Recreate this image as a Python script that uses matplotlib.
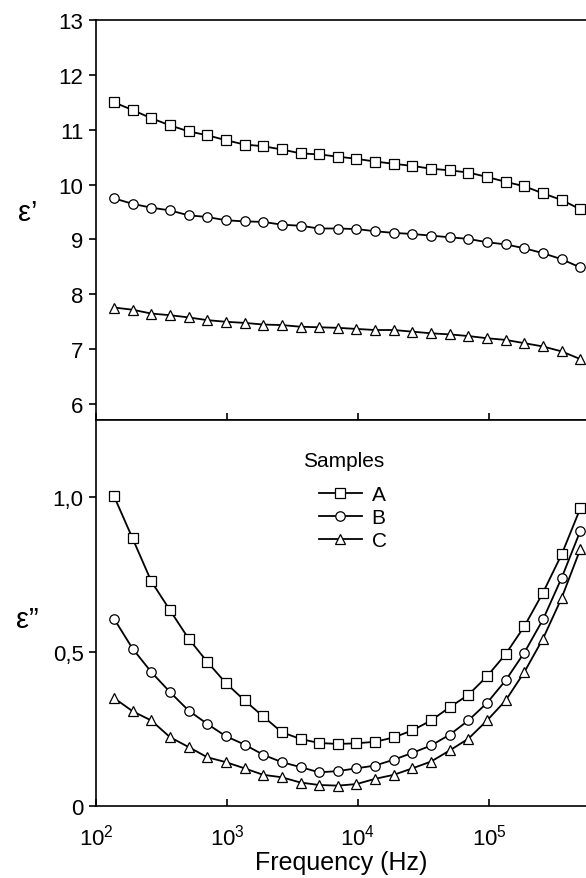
import matplotlib
matplotlib.use("Agg")
import matplotlib.pyplot as plt
from matplotlib.ticker import FixedLocator, FuncFormatter, LogLocator, NullLocator

plt.rcParams["font.family"] = ["Liberation Sans", "DejaVu Sans"]
plt.rcParams["mathtext.default"] = "regular"

# frequencies (Hz), same grid for all curves
freq = [137, 190, 264, 367, 509, 706, 980, 1361, 1889, 2622, 3640, 5052, 7013,
        9734, 13510, 18750, 26030, 36130, 50150, 69610, 96620, 134100, 186200,
        258400, 358700, 497900]

# real part eps'
eps1_A = [11.50, 11.36, 11.21, 11.08, 10.97, 10.90, 10.81, 10.73, 10.70, 10.64,
          10.57, 10.55, 10.51, 10.47, 10.42, 10.38, 10.34, 10.29, 10.26, 10.22,
          10.14, 10.05, 9.97, 9.84, 9.72, 9.55]
eps1_B = [9.75, 9.65, 9.58, 9.53, 9.44, 9.41, 9.35, 9.33, 9.32, 9.27,
          9.25, 9.20, 9.20, 9.19, 9.15, 9.12, 9.10, 9.07, 9.04, 9.01,
          8.95, 8.91, 8.84, 8.75, 8.64, 8.49]
eps1_C = [7.76, 7.72, 7.65, 7.62, 7.58, 7.53, 7.50, 7.48, 7.45, 7.44,
          7.41, 7.40, 7.39, 7.37, 7.35, 7.35, 7.32, 7.29, 7.27, 7.24,
          7.20, 7.17, 7.11, 7.05, 6.96, 6.82]

# imaginary part eps''
eps2_A = [1.004, 0.867, 0.728, 0.634, 0.542, 0.467, 0.398, 0.342, 0.290, 0.239,
          0.217, 0.204, 0.201, 0.203, 0.208, 0.222, 0.245, 0.277, 0.320, 0.360,
          0.420, 0.492, 0.582, 0.691, 0.815, 0.964]
eps2_B = [0.607, 0.510, 0.434, 0.369, 0.309, 0.266, 0.226, 0.199, 0.166, 0.142,
          0.126, 0.109, 0.113, 0.122, 0.131, 0.150, 0.172, 0.196, 0.231, 0.277,
          0.334, 0.407, 0.497, 0.604, 0.739, 0.891]
eps2_C = [0.350, 0.307, 0.277, 0.223, 0.191, 0.158, 0.142, 0.122, 0.101, 0.093,
          0.076, 0.068, 0.066, 0.071, 0.088, 0.101, 0.122, 0.144, 0.180, 0.218,
          0.277, 0.342, 0.434, 0.542, 0.674, 0.832]

samples = ["A", "B", "C"]
markers = ["s", "o", "^"]


def style_axis(ax):
    ax.set_xscale("log")
    ax.set_xlim(100, 5.5e5)
    ax.spines["right"].set_visible(False)
    for s in ax.spines.values():
        s.set_linewidth(1.2)
    ax.xaxis.set_major_locator(LogLocator(base=10, numticks=10))
    ax.xaxis.set_minor_locator(NullLocator())
    ax.tick_params(axis="x", direction="in", length=5, width=1.2, labelsize=16, pad=13)
    ax.tick_params(axis="y", direction="out", length=5, width=1.2, labelsize=16, pad=4)
    ax.tick_params(which="both", top=False, right=False)


fig = plt.figure(figsize=(5.86, 8.79), dpi=100)
left = 96 / 586
width = 1 - left
ax1 = fig.add_axes([left, 1 - 421 / 879, width, 400 / 879])
ax2 = fig.add_axes([left, 1 - 807 / 879, width, 386 / 879], sharex=ax1)

for ys, m, name in zip([eps1_A, eps1_B, eps1_C], markers, samples):
    ax1.plot(freq, ys, color="black", lw=1.3, marker=m, ms=6.8,
             mfc="white", mec="black", mew=0.9, label=name)
for ys, m, name in zip([eps2_A, eps2_B, eps2_C], markers, samples):
    ax2.plot(freq, ys, color="black", lw=1.3, marker=m, ms=6.8,
             mfc="white", mec="black", mew=0.9, label=name)

style_axis(ax1)
style_axis(ax2)

ax1.set_ylim(5.71, 13)
ax1.yaxis.set_major_locator(FixedLocator([6, 7, 8, 9, 10, 11, 12, 13]))
ax1.tick_params(axis="x", labelbottom=False)
ax1.set_ylabel("ε’", fontsize=21, rotation=0, va="center", ha="center")

ax2.set_ylim(0, 1.25)
ax2.yaxis.set_major_locator(FixedLocator([0, 0.5, 1.0]))
ax2.yaxis.set_major_formatter(
    FuncFormatter(lambda v, p: "0" if v == 0 else f"{v:.1f}".replace(".", ",")))
ax2.set_ylabel("ε”", fontsize=21, rotation=0, va="center", ha="center")
ax2.set_xlabel("Frequency (Hz)", fontsize=18, labelpad=0)

# legend title drawn as plain text so the gap above the entries matches
ax2.text(0.422, 0.894, "Samples", transform=ax2.transAxes, fontsize=15,
         va="center", ha="left")
ax2.legend(loc="upper left", bbox_to_anchor=(0.433, 0.859), borderpad=0,
           frameon=False, fontsize=15, handlelength=2.1, labelspacing=0.2,
           handletextpad=0.45)

ax1.yaxis.set_label_coords(-0.14, 0.52)
ax2.yaxis.set_label_coords(-0.14, 0.485)

fig.savefig("out.png", dpi=100)
